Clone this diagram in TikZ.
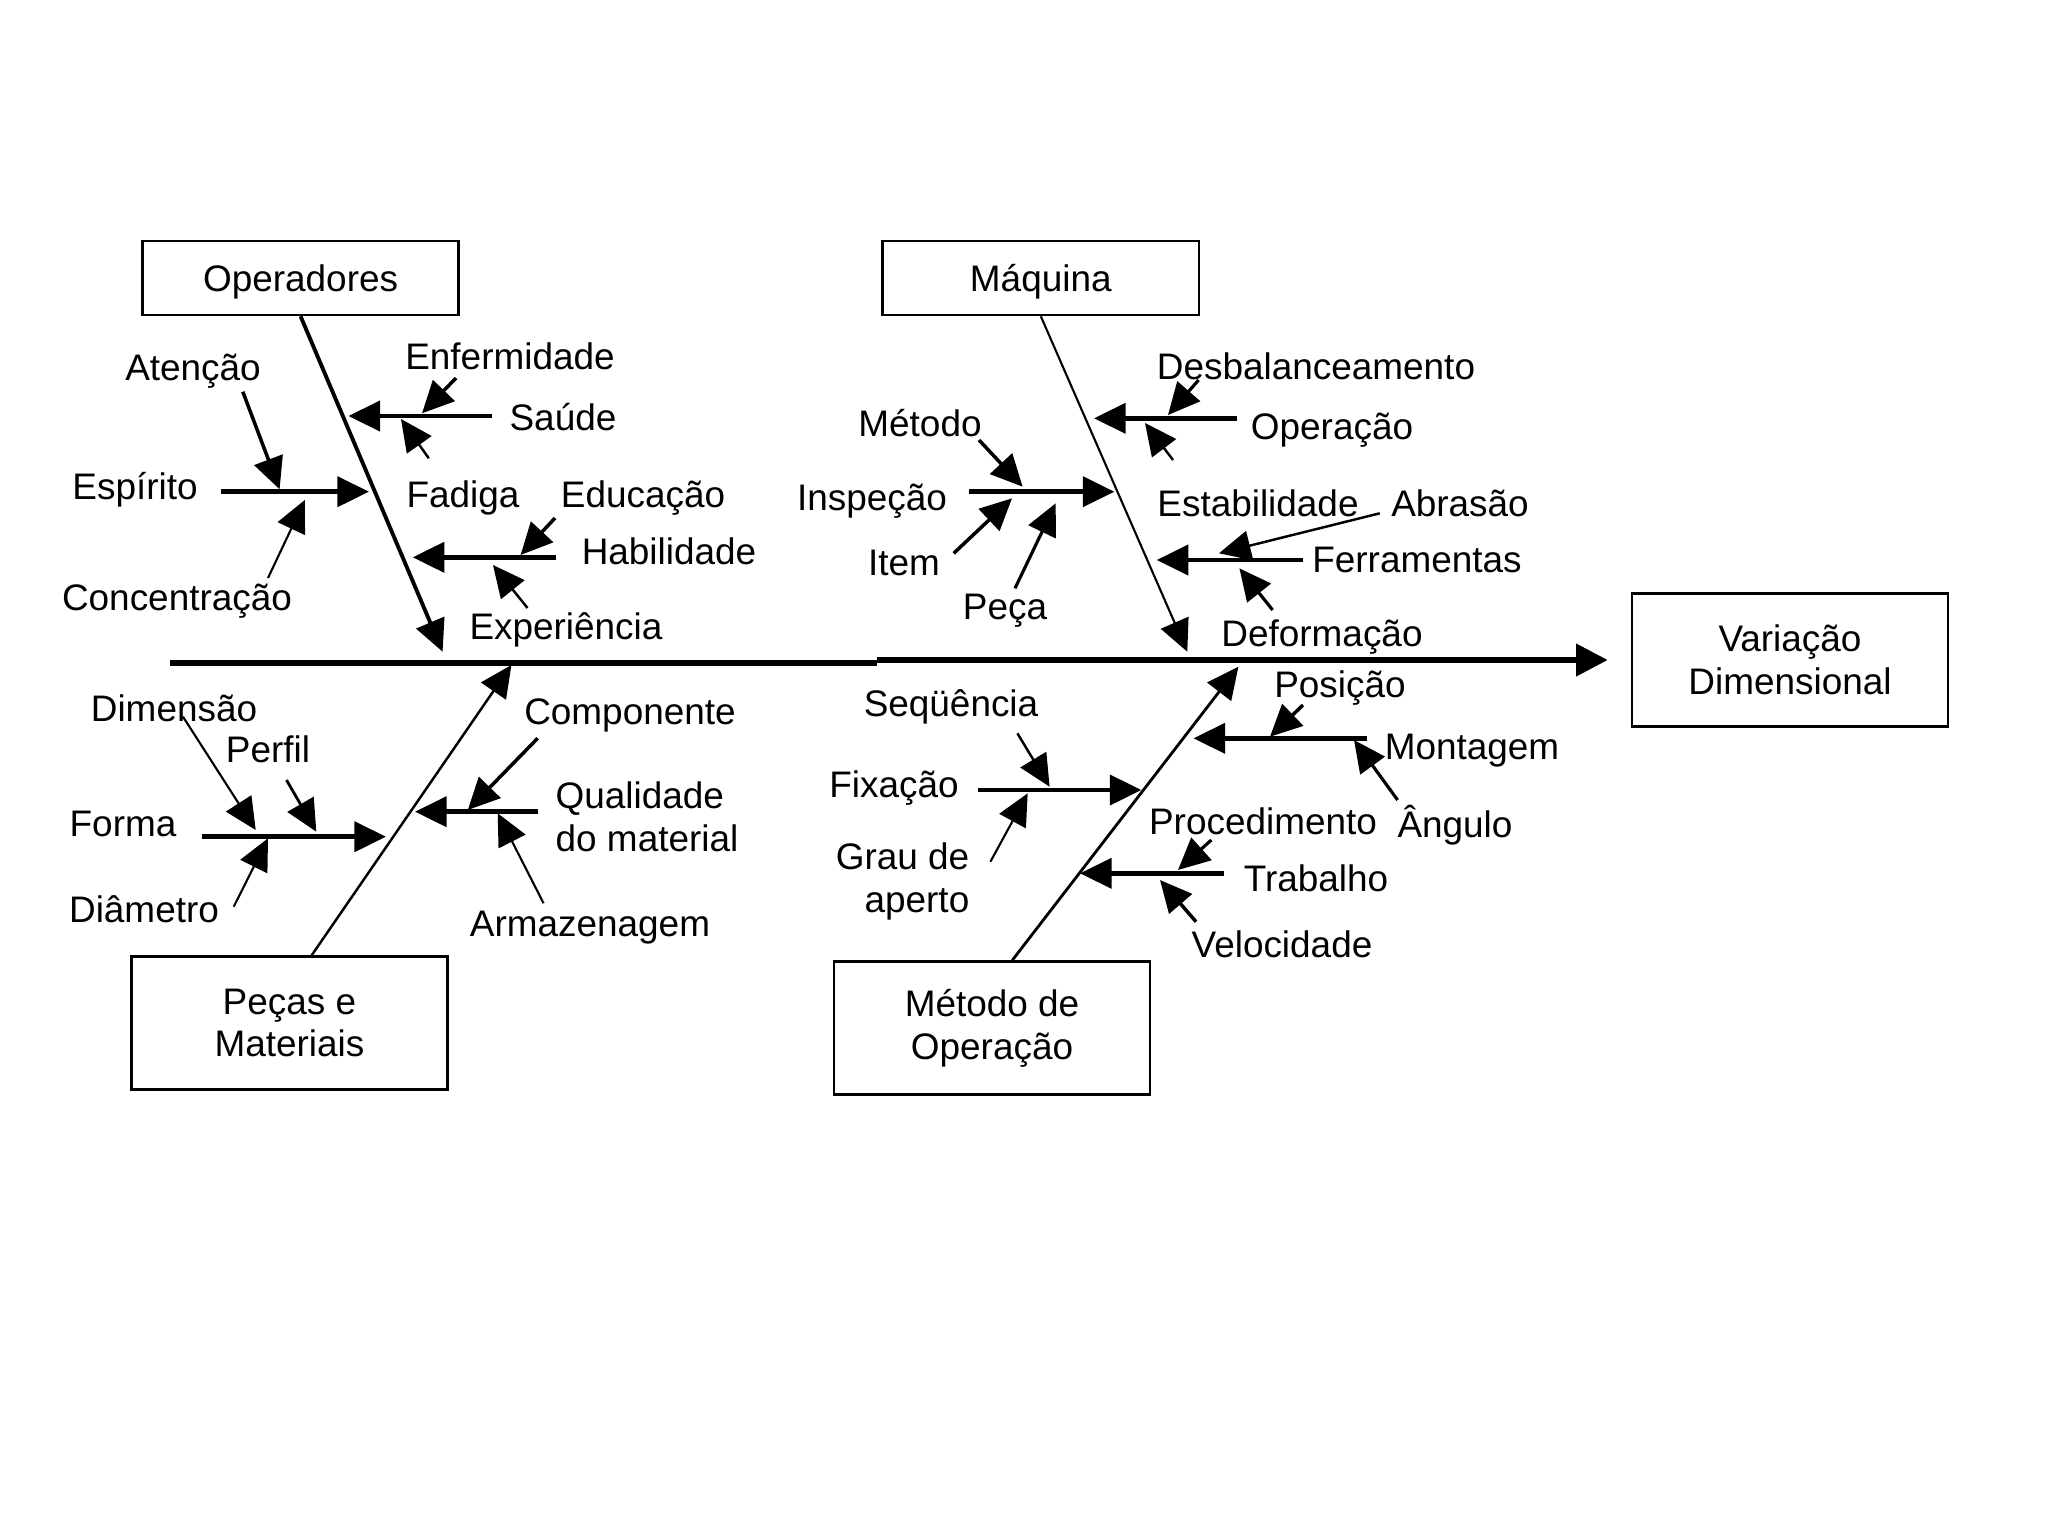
\documentclass[tikz,border=0pt]{standalone}
\usepackage{fontspec}
\setmainfont{Liberation Sans}
\usetikzlibrary{arrows.meta}
\begin{document}
\begin{tikzpicture}[x=0.01cm,y=-0.01cm,
  lbl/.style={font=\fontsize{10.5pt}{12.2pt}\selectfont, inner sep=0pt, anchor=base},
  catbox/.style={draw, line width=0.7pt, font=\fontsize{10.5pt}{12.2pt}\selectfont,
    minimum width=3.16cm, inner sep=0pt, align=center},
  arw/.style={line width=#1, -{Triangle[length=9pt,width=8.5pt]}},
  spinetip/.style={line width=1.56pt, -{Triangle[length=9pt,width=9pt]}}
]
\path[use as bounding box, fill=white] (0,0) rectangle (2048,1536);

% ---- category boxes and effect ----
\node[catbox, minimum height=0.74cm, text height=0.75em, text depth=0pt] (op) at (300.6,278) {Operadores};
\node[catbox, minimum height=0.74cm, text height=0.75em, text depth=0pt] (maq) at (1040.8,278) {Máquina};
\node[catbox, minimum height=1.33cm] (pm) at (289.4,1023) {Peças e\\Materiais};
\node[catbox, minimum height=1.33cm] (mo) at (992,1028) {Método de\\Operação};
\node[catbox, minimum height=1.33cm] (var) at (1790,660) {Variação\\Dimensional};

% ---- labels ----
\node[lbl] (aten) at (193,380) {Atenção};
\node[lbl] (espi) at (135,499) {Espírito};
\node[lbl] (conc) at (177,610.5) {Concentração};
\node[lbl] (enfe) at (510,369) {Enfermidade};
\node[lbl] (saud) at (563,430.5) {Saúde};
\node[lbl] (fadi) at (463,507.5) {Fadiga};
\node[lbl] (educ) at (643,507.5) {Educação};
\node[lbl] (habi) at (669,564) {Habilidade};
\node[lbl] (expe) at (566,639) {Experiência};

\node[lbl] (desb) at (1316,379) {Desbalanceamento};
\node[lbl] (oper) at (1332,439) {Operação};
\node[lbl] (meto) at (920,436) {Método};
\node[lbl] (insp) at (872,510.5) {Inspeção};
\node[lbl] (item) at (904,575.5) {Item};
\node[lbl] (peca) at (1005,619) {Peça};
\node[lbl] (esta) at (1258,516) {Estabilidade};
\node[lbl] (abra) at (1460,516) {Abrasão};
\node[lbl] (ferr) at (1417,572.5) {Ferramentas};
\node[lbl] (defo) at (1322,646) {Deformação};

\node[lbl] (dime) at (174,721) {Dimensão};
\node[lbl] (perf) at (268,762.5) {Perfil};
\node[lbl] (form) at (123,836) {Forma};
\node[lbl] (diam) at (144,922.5) {Diâmetro};
\node[lbl] (comp) at (630,724.5) {Componente};
\node[lbl, anchor=west, align=left] (qual) at (555,817) {Qualidade\\do material};
\node[lbl] (arma) at (590,936) {Armazenagem};

\node[lbl] (posi) at (1340,697.5) {Posição};
\node[lbl] (mont) at (1472,759.5) {Montagem};
\node[lbl] (angu) at (1455,837.5) {Ângulo};
\node[lbl] (sequ) at (951,716) {Seqüência};
\node[lbl] (fixa) at (894,797.5) {Fixação};
\node[lbl, anchor=east, align=right] (grau) at (970,881) {Grau de\\aperto};
\node[lbl] (proc) at (1263,834.5) {Procedimento};
\node[lbl] (trab) at (1316,891) {Trabalho};
\node[lbl] (velo) at (1282,957.5) {Velocidade};

% ---- spine ----
\coordinate (sp0) at (170,663);
\coordinate (sp1) at (877,663);
\coordinate (sp2) at (877,660);
\draw[line width=1.56pt] (sp0) -- (sp1);
\draw[spinetip, shorten >=0.23cm] (sp2) -- (var);

% ---- bones ----
\coordinate (op-t) at (442.6,651.7);
\coordinate (maq-t) at (1187.3,651.7);
\coordinate (pm-t) at (511.4,665);
\coordinate (mo-t) at (1238.4,666.7);
\draw[arw=1.1pt] (op.south) -- (op-t);
\draw[arw=0.6pt] (maq.south) -- (maq-t);
\draw[arw=0.7pt] ([xshift=0.223cm]pm.north) -- (pm-t);
\draw[arw=0.8pt] ([xshift=0.203cm]mo.north) -- (mo-t);

% ---- Operadores sub-causes ----
\coordinate (aten-s) at (242.8,391.7); \coordinate (aten-t) at (279.6,489.3);
\coordinate (espi-s) at (220.8,491.7); \coordinate (espi-t) at (369,491.7);
\coordinate (conc-s) at (268,578);     \coordinate (conc-t) at (304.8,500);
\coordinate (enfe-s) at (456,378);     \coordinate (enfe-t) at (422,413.3);
\coordinate (saud-s) at (491.7,416);   \coordinate (saud-t) at (348.4,416);
\coordinate (fadi-s) at (428.8,458.3); \coordinate (fadi-t) at (401,419);
\coordinate (educ-s) at (555,518);     \coordinate (educ-t) at (520.6,555);
\coordinate (habi-s) at (556.4,557.3); \coordinate (habi-t) at (412.7,557.3);
\coordinate (expe-s) at (527.5,608);   \coordinate (expe-t) at (493,565);
\draw[arw=1pt] (aten-s) -- (aten-t);
\draw[arw=1.3pt] (espi-s) -- (espi-t);
\draw[arw=0.6pt] (conc-s) -- (conc-t);
\draw[arw=1pt] (enfe-s) -- (enfe-t);
\draw[arw=1.3pt] (saud-s) -- (saud-t);
\draw[arw=0.7pt] (fadi-s) -- (fadi-t);
\draw[arw=1pt] (educ-s) -- (educ-t);
\draw[arw=1.3pt] (habi-s) -- (habi-t);
\draw[arw=0.7pt] (expe-s) -- (expe-t);

% ---- Maquina sub-causes ----
\coordinate (desb-s) at (1198.6,380);  \coordinate (desb-t) at (1168,415);
\coordinate (oper-s) at (1236.8,418.3); \coordinate (oper-t) at (1094,418.3);
\coordinate (esta-s) at (1173,460);    \coordinate (esta-t) at (1145,423);
\coordinate (meto-s) at (979,440);     \coordinate (meto-t) at (1022.6,486.7);
\coordinate (insp-s) at (969,491.7);   \coordinate (insp-t) at (1114.4,491.7);
\coordinate (item-s) at (953.7,553.3); \coordinate (item-t) at (1012,498.3);
\coordinate (peca-s) at (1015,588.3);  \coordinate (peca-t) at (1055.7,503.3);
\coordinate (abra-s) at (1379.7,513.3); \coordinate (abra-t) at (1219,553.3);
\coordinate (ferr-s) at (1303,560);    \coordinate (ferr-t) at (1156.7,560);
\coordinate (defo-s) at (1272.6,610);  \coordinate (defo-t) at (1239.4,568.3);
\draw[arw=0.9pt] (desb-s) -- (desb-t);
\draw[arw=1.3pt] (oper-s) -- (oper-t);
\draw[arw=0.7pt] (esta-s) -- (esta-t);
\draw[arw=1pt] (meto-s) -- (meto-t);
\draw[arw=1.3pt] (insp-s) -- (insp-t);
\draw[arw=1pt] (item-s) -- (item-t);
\draw[arw=0.9pt] (peca-s) -- (peca-t);
\draw[arw=0.7pt] (abra-s) -- (abra-t);
\draw[arw=1.3pt] (ferr-s) -- (ferr-t);
\draw[arw=0.9pt] (defo-s) -- (defo-t);

% ---- Pecas e Materiais sub-causes ----
\coordinate (dime-s) at (183,716.7);   \coordinate (dime-t) at (255.7,830);
\coordinate (perf-s) at (286.5,780);   \coordinate (perf-t) at (316.3,831.7);
\coordinate (form-s) at (201.5,836.7); \coordinate (form-t) at (386,836.7);
\coordinate (diam-s) at (233.7,906.7); \coordinate (diam-t) at (268,838.3);
\coordinate (comp-s) at (537.6,738.3); \coordinate (comp-t) at (467.8,810);
\coordinate (qual-s) at (537.6,811.7); \coordinate (qual-t) at (415,811.7);
\coordinate (arma-s) at (543.6,903.3); \coordinate (arma-t) at (497.7,813.3);
\draw[arw=0.6pt] (dime-s) -- (dime-t);
\draw[arw=0.8pt] (perf-s) -- (perf-t);
\draw[arw=1.3pt] (form-s) -- (form-t);
\draw[arw=0.6pt] (diam-s) -- (diam-t);
\draw[arw=1pt] (comp-s) -- (comp-t);
\draw[arw=1.3pt] (qual-s) -- (qual-t);
\draw[arw=0.6pt] (arma-s) -- (arma-t);

% ---- Metodo de Operacao sub-causes ----
\coordinate (posi-s) at (1303,705);    \coordinate (posi-t) at (1270,736.7);
\coordinate (mont-s) at (1367,738.3);  \coordinate (mont-t) at (1193.5,738.3);
\coordinate (angu-s) at (1397.6,800);  \coordinate (angu-t) at (1354,740);
\coordinate (sequ-s) at (1017.4,733.3); \coordinate (sequ-t) at (1049.6,786.7);
\coordinate (fixa-s) at (978,790);     \coordinate (fixa-t) at (1141.4,790);
\coordinate (grau-s) at (990.4,861.7); \coordinate (grau-t) at (1027.7,793.3);
\coordinate (proc-s) at (1211.3,840);  \coordinate (proc-t) at (1178,870);
\coordinate (trab-s) at (1224,873.3);  \coordinate (trab-t) at (1080,873.3);
\coordinate (velo-s) at (1196,921.7);  \coordinate (velo-t) at (1160,880);
\draw[arw=1pt] (posi-s) -- (posi-t);
\draw[arw=1.3pt] (mont-s) -- (mont-t);
\draw[arw=0.9pt] (angu-s) -- (angu-t);
\draw[arw=0.7pt] (sequ-s) -- (sequ-t);
\draw[arw=1.3pt] (fixa-s) -- (fixa-t);
\draw[arw=0.6pt] (grau-s) -- (grau-t);
\draw[arw=0.9pt] (proc-s) -- (proc-t);
\draw[arw=1.3pt] (trab-s) -- (trab-t);
\draw[arw=1pt] (velo-s) -- (velo-t);
\end{tikzpicture}
\end{document}
